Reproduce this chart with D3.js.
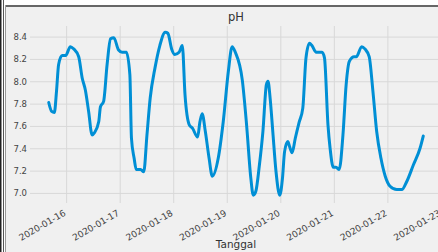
<!DOCTYPE html>
<html>
<head>
<meta charset="utf-8">
<script src="https://cdn.jsdelivr.net/npm/d3@7"></script>
<style>
  body { margin: 0; background: #fff; }
  text { font-family: "DejaVu Sans", sans-serif; }
</style>
</head>
<body>
<svg id="chart" width="438" height="252"></svg>
<script>
// pH readings
var times = [
  "2020-01-15 16:12", "2020-01-15 17:31", "2020-01-15 18:43", "2020-01-15 19:41", "2020-01-15 20:38",
  "2020-01-15 22:12", "2020-01-15 23:46", "2020-01-16 01:55", "2020-01-16 03:22", "2020-01-16 05:38",
  "2020-01-16 07:12", "2020-01-16 08:38", "2020-01-16 10:05", "2020-01-16 11:38", "2020-01-16 12:43",
  "2020-01-16 14:38", "2020-01-16 15:22", "2020-01-16 16:48", "2020-01-16 18:22", "2020-01-16 19:55",
  "2020-01-16 21:22", "2020-01-16 23:31", "2020-01-17 01:05", "2020-01-17 03:00", "2020-01-17 04:34",
  "2020-01-17 05:17", "2020-01-17 06:29", "2020-01-17 07:26", "2020-01-17 09:22", "2020-01-17 10:48",
  "2020-01-17 12:14", "2020-01-17 13:41", "2020-01-17 15:50", "2020-01-17 18:00", "2020-01-17 20:24",
  "2020-01-17 21:36", "2020-01-17 23:17", "2020-01-18 00:43", "2020-01-18 02:38", "2020-01-18 04:05",
  "2020-01-18 05:17", "2020-01-18 07:12", "2020-01-18 08:38", "2020-01-18 10:55", "2020-01-18 12:00",
  "2020-01-18 12:58", "2020-01-18 14:24", "2020-01-18 16:05", "2020-01-18 17:31", "2020-01-18 20:10",
  "2020-01-18 22:26", "2020-01-19 00:43", "2020-01-19 02:24", "2020-01-19 03:50", "2020-01-19 06:58",
  "2020-01-19 08:53", "2020-01-19 10:48", "2020-01-19 11:53", "2020-01-19 12:58", "2020-01-19 14:38",
  "2020-01-19 16:12", "2020-01-19 17:46", "2020-01-19 18:29", "2020-01-19 19:26", "2020-01-19 20:38",
  "2020-01-19 22:05", "2020-01-19 23:46", "2020-01-20 00:58", "2020-01-20 01:55", "2020-01-20 03:22",
  "2020-01-20 04:05", "2020-01-20 05:17", "2020-01-20 06:43", "2020-01-20 08:24", "2020-01-20 10:05",
  "2020-01-20 11:31", "2020-01-20 13:05", "2020-01-20 14:10", "2020-01-20 16:05", "2020-01-20 18:43",
  "2020-01-20 19:48", "2020-01-20 21:22", "2020-01-20 22:19", "2020-01-20 23:46", "2020-01-21 00:58",
  "2020-01-21 02:24", "2020-01-21 04:05", "2020-01-21 05:31", "2020-01-21 06:58", "2020-01-21 09:07",
  "2020-01-21 10:05", "2020-01-21 12:29", "2020-01-21 13:55", "2020-01-21 15:50", "2020-01-21 17:31",
  "2020-01-21 19:12", "2020-01-21 21:07", "2020-01-21 23:02", "2020-01-22 01:12", "2020-01-22 04:12",
  "2020-01-22 06:29", "2020-01-22 08:38", "2020-01-22 11:38", "2020-01-22 14:38", "2020-01-22 16:05"
];
var ph = [
  7.81, 7.73, 7.72, 7.91, 8.15,
  8.23, 8.23, 8.31, 8.29, 8.22,
  8.03, 7.92, 7.73, 7.52, 7.54,
  7.64, 7.77, 7.82, 8.15, 8.38,
  8.39, 8.28, 8.26, 8.26, 8.06,
  7.49, 7.31, 7.21, 7.21, 7.19,
  7.52, 7.85, 8.12, 8.32, 8.44,
  8.43, 8.29, 8.24, 8.26, 8.32,
  7.88, 7.61, 7.58, 7.50, 7.64,
  7.71, 7.55, 7.31, 7.15, 7.31,
  7.64, 8.09, 8.31, 8.26, 8.01,
  7.61, 7.13, 6.98, 7.01, 7.25,
  7.55, 7.97, 8.00, 7.85, 7.55,
  7.19, 6.98, 7.13, 7.37, 7.46,
  7.42, 7.36, 7.49, 7.63, 7.76,
  8.21, 8.34, 8.32, 8.26, 8.26,
  8.21, 7.61, 7.40, 7.23, 7.23,
  7.21, 7.52, 7.97, 8.18, 8.22,
  8.22, 8.31, 8.29, 8.22, 7.91,
  7.55, 7.31, 7.15, 7.06, 7.03,
  7.03, 7.10, 7.25, 7.40, 7.51
];
var yTicks = [7.0, 7.2, 7.4, 7.6, 7.8, 8.0, 8.2, 8.4];
var title = "pH";
var xTitle = "Tanggal";

var parse = d3.timeParse("%Y-%m-%d %H:%M");
var data = times.map(function(t, i) { return { date: parse(t), value: ph[i] }; });

var margins = { left: 30, top: 26, right: -4, bottom: 49 };
var W = 438, H = 252;
var svg = d3.select("#chart");

// window frame bits from the screenshot
svg.append("rect").attr("x", 6).attr("y", 7).attr("width", W - 6).attr("height", H - 7).attr("fill", "#f0f0f0");
svg.append("rect").attr("x", 6).attr("y", 5).attr("width", W - 6).attr("height", 2).attr("fill", "#666");
svg.append("rect").attr("x", 0).attr("y", 0).attr("width", 1.5).attr("height", H).attr("fill", "#222");
svg.append("rect").attr("x", 3).attr("y", 0).attr("width", 1).attr("height", H).attr("fill", "#555");
svg.append("rect").attr("x", 5).attr("y", 5).attr("width", 1).attr("height", H - 5).attr("fill", "#999");

var width = W - margins.left - margins.right;
var height = H - margins.top - margins.bottom;

var ext = d3.extent(data, function(d) { return d.date; });
var pad = (ext[1] - ext[0]) * 0.05;
var xScale = d3.scaleTime()
  .domain([new Date(+ext[0] - pad), new Date(+ext[1] + pad)])
  .range([0, width]);
var yScale = d3.scaleLinear()
  .domain([6.91, 8.495])
  .range([height, 0]);

var g = svg.append("g").attr("transform", "translate(" + margins.left + "," + margins.top + ")");

// grid
var xAxis = d3.axisBottom(xScale).ticks(d3.timeDay.every(1)).tickSize(-height).tickFormat("");
var yAxis = d3.axisLeft(yScale).tickValues(yTicks).tickSize(-width).tickFormat(d3.format(".1f"));

var gx = g.append("g").attr("transform", "translate(0," + height + ")").call(xAxis);
gx.select(".domain").remove();
gx.selectAll("line").attr("stroke", "#d8d8d8").attr("stroke-width", 1);

var gy = g.append("g").call(yAxis);
gy.select(".domain").remove();
gy.selectAll("line").attr("stroke", "#d8d8d8").attr("stroke-width", 1);
gy.selectAll("text").attr("x", -3).attr("fill", "#444").style("font-size", "8.5px");

// rotated date labels
var fmt = d3.timeFormat("%Y-%m-%d");
g.append("g").selectAll("text")
  .data(xScale.ticks(d3.timeDay.every(1)))
  .enter()
  .append("text")
  .attr("transform", function(d) { return "translate(" + (xScale(d) - 3) + "," + (height + 6) + ") rotate(-30)"; })
  .attr("text-anchor", "end")
  .attr("dy", "0.75em")
  .attr("fill", "#444")
  .style("font-size", "9px")
  .text(fmt);

var lineGenerator = d3.line()
  .x(function(d) { return xScale(d.date); })
  .y(function(d) { return yScale(d.value); })
  .curve(d3.curveMonotoneX);

g.append("path")
  .datum(data)
  .attr("fill", "none")
  .attr("stroke", "#008fd5")
  .attr("stroke-width", 3)
  .attr("stroke-linejoin", "round")
  .attr("stroke-linecap", "round")
  .attr("d", lineGenerator);

svg.append("text")
  .attr("x", margins.left + width / 2)
  .attr("y", 21)
  .attr("text-anchor", "middle")
  .attr("fill", "#333")
  .style("font-size", "11.5px")
  .text(title);

svg.append("text")
  .attr("x", margins.left + width / 2)
  .attr("y", 248)
  .attr("text-anchor", "middle")
  .attr("fill", "#333")
  .style("font-size", "10.5px")
  .text(xTitle);
</script>
</body>
</html>
